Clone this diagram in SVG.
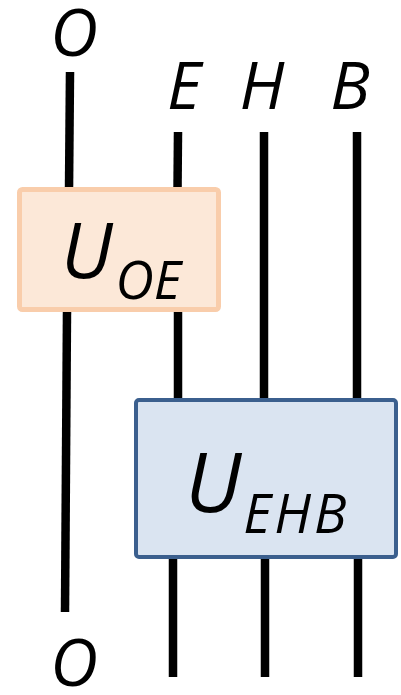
<svg xmlns="http://www.w3.org/2000/svg" width="401" height="695" viewBox="0 0 401 695">
  <style>
    .wire { stroke: #000; stroke-width: 8.5; fill: none; }
    .lbl { font-family: "Open Sans", "Liberation Sans", sans-serif; font-style: italic; fill: #000; }
    .gateA { fill: #FCE8D8; stroke: #F9CDAB; stroke-width: 5; }
    .gateB { fill: #DAE4F1; stroke: #3B5F8E; stroke-width: 4; }
  </style>

  <!-- wires -->
  <g id="wires">
    <line class="wire" x1="70" y1="72" x2="69" y2="190"/>
    <line class="wire" x1="178" y1="132" x2="177.5" y2="190"/>
    <line class="wire" x1="264" y1="132" x2="264" y2="400"/>
    <line class="wire" x1="357" y1="132" x2="357" y2="400"/>
    <line class="wire" x1="67" y1="310" x2="65" y2="612"/>
    <line class="wire" x1="178" y1="310" x2="178" y2="400"/>
    <line class="wire" x1="173" y1="557" x2="173" y2="677"/>
    <line class="wire" x1="265" y1="557" x2="265" y2="677"/>
    <line class="wire" x1="358" y1="557" x2="358" y2="677"/>
  </g>

  <!-- wire labels -->
  <g id="labels">
    <text class="lbl" x="74" y="56" font-size="66" text-anchor="middle">O</text>
    <text class="lbl" x="184" y="109" font-size="66" text-anchor="middle">E</text>
    <text class="lbl" x="262" y="109" font-size="66" text-anchor="middle">H</text>
    <text class="lbl" x="350" y="109" font-size="66" text-anchor="middle">B</text>
    <text class="lbl" x="74" y="686" font-size="66" text-anchor="middle">O</text>
  </g>

  <!-- two-wire gate on O,E -->
  <g id="gate-OE">
    <rect class="gateA" x="19.5" y="189.5" width="199" height="120" rx="3"/>
    <text class="lbl" x="61" y="278" font-size="76">U<tspan font-size="53" dx="3" dy="21">OE</tspan></text>
  </g>

  <!-- three-wire gate on E,H,B -->
  <g id="gate-EHB">
    <rect class="gateB" x="136" y="400" width="260" height="157" rx="3"/>
    <text class="lbl" x="185" y="512" font-size="83">U<tspan font-size="54" dx="2" dy="21" letter-spacing="3">EHB</tspan></text>
  </g>
</svg>
